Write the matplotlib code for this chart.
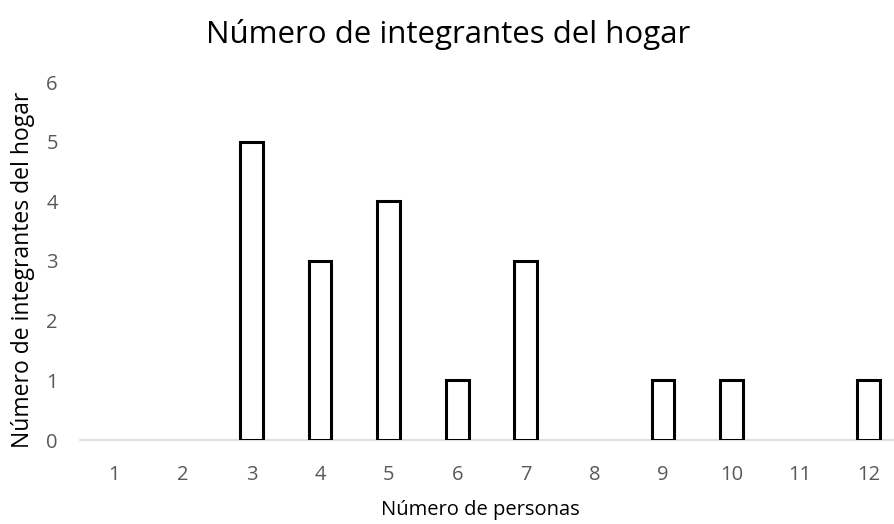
import matplotlib
matplotlib.use("Agg")
import matplotlib.pyplot as plt
import numpy as np

categories = ["1", "2", "3", "4", "5", "6", "7", "8", "9", "10", "11", "12"]
values = [0, 0, 5, 3, 4, 1, 3, 0, 1, 1, 0, 1]
y_ticks = [0, 1, 2, 3, 4, 5, 6]

plt.rcParams['font.family'] = ['Open Sans', 'DejaVu Sans']

fig = plt.figure(figsize=(8.94, 5.24), dpi=100)
W, H = 894, 524
left, right, bottom, top = 80, 903, 440, 82
ax = fig.add_axes([left / W, 1 - bottom / H, (right - left) / W, (bottom - top) / H])

x = np.arange(len(categories))
edges = ["black" if v > 0 else "none" for v in values]
ax.bar(x, values, width=0.33, facecolor="white", edgecolor=edges, linewidth=2.2, zorder=3)

ax.set_xlim(-0.5, len(categories) - 0.5)
ax.set_ylim(0, 6)
ax.set_yticks(y_ticks)
ax.set_yticklabels([str(t) for t in y_ticks])
ax.set_xticks(x)
ax.set_xticklabels(categories)

for s in ["top", "right", "left"]:
    ax.spines[s].set_visible(False)
ax.spines["bottom"].set_color("#d9d9d9")
ax.spines["bottom"].set_linewidth(1.2)
ax.tick_params(axis="both", length=0, labelsize=14.5, colors="#595959")
ax.tick_params(axis="x", pad=18)
ax.tick_params(axis="y", pad=16)

fig.text(480 / W, 1 - 510 / H, "Número de personas", ha="center", va="center", fontsize=14.5, color="black")
fig.text(23 / W, 1 - 270 / H, "Número de integrantes del hogar", ha="center", va="center",
         rotation=90, fontsize=16.5, color="black")
fig.text(448 / W, 1 - 35 / H, "Número de integrantes del hogar", ha="center", va="center", fontsize=22.5, color="black")

fig.savefig("out.png", dpi=100)
